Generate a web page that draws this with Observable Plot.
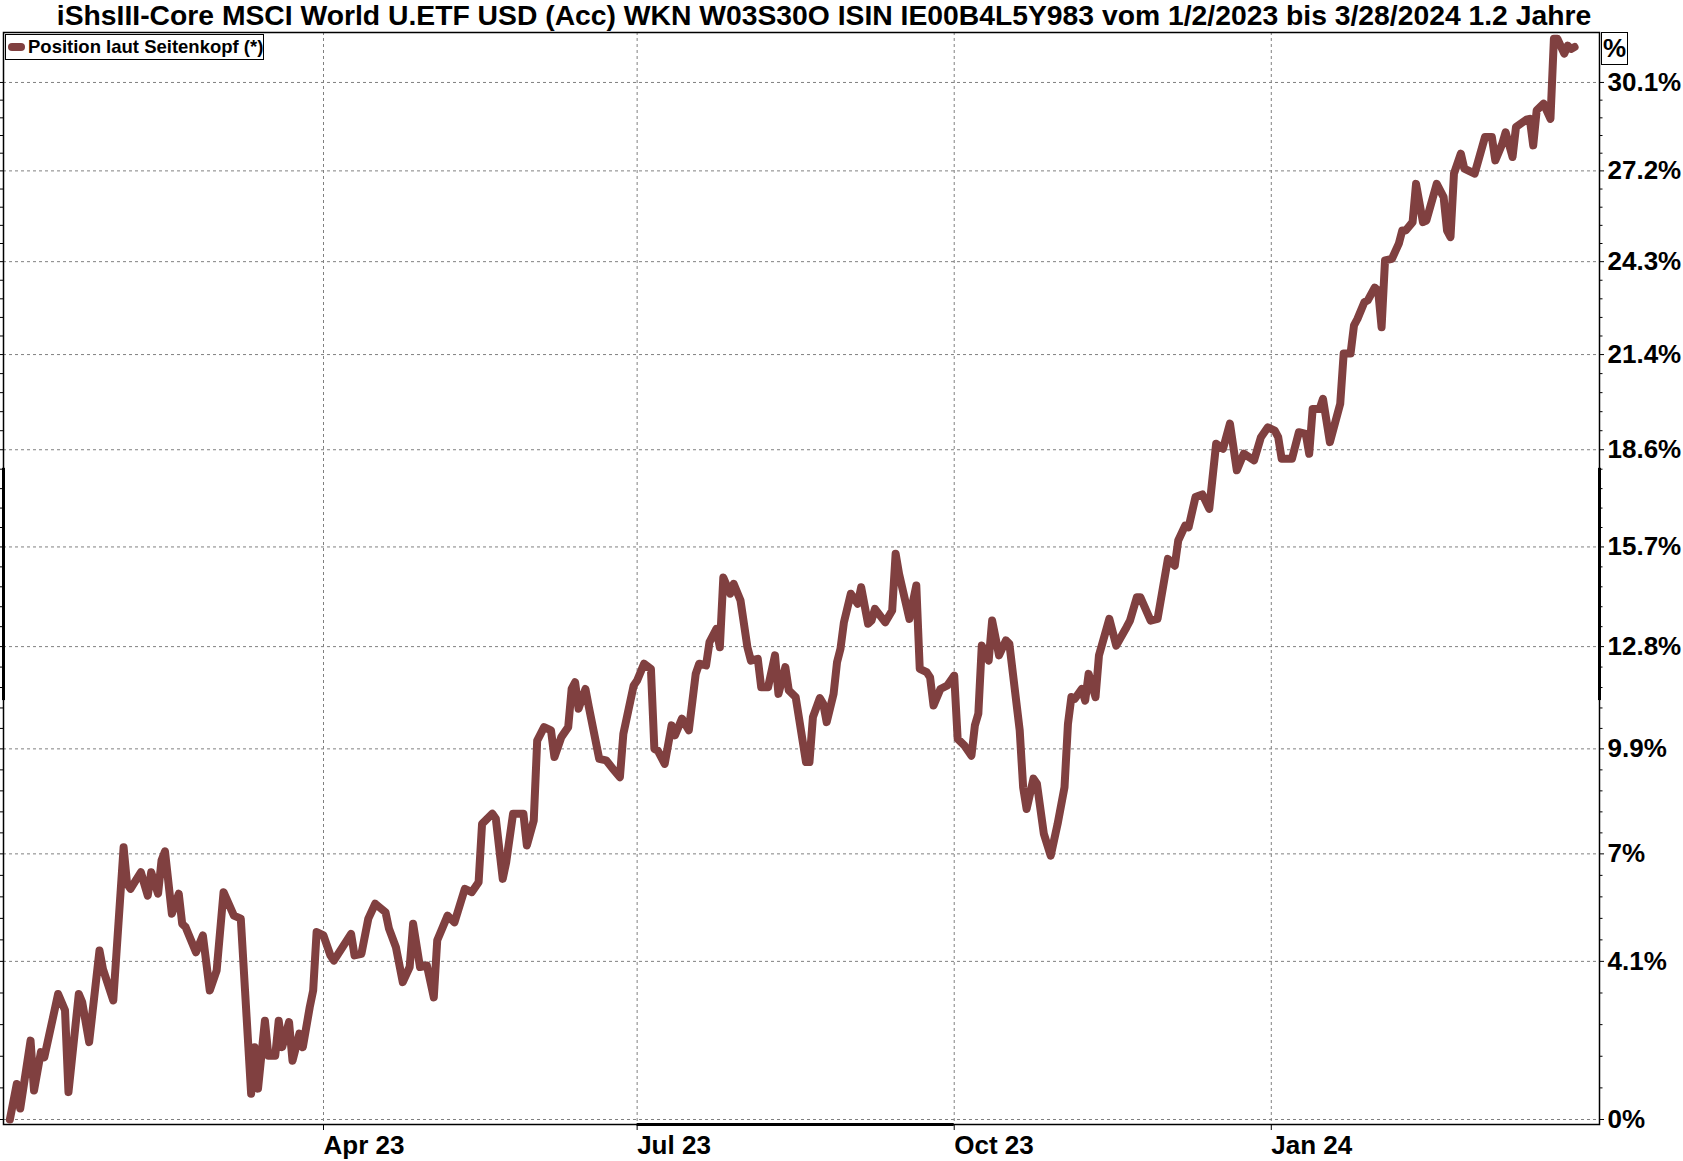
<!DOCTYPE html>
<html>
<head>
<meta charset="utf-8">
<script src="https://cdn.jsdelivr.net/npm/d3@7"></script>
<script src="https://cdn.jsdelivr.net/npm/@observablehq/plot@0.6"></script>
<style>
  body { margin: 0; background: #fff; }
  #wrap { position: relative; width: 1683px; height: 1161px; overflow: hidden; background: #fff;
          font-family: "Liberation Sans", Arial, sans-serif; color: #000; }
  #title { position: absolute; left: 0; top: 0; width: 1648px; height: 32px; line-height: 30px;
           text-align: center; font-weight: bold; font-size: 28.3px; white-space: nowrap; }
  #chart { position: absolute; left: 0; top: 32px; }
  #legend { position: absolute; left: 5px; top: 34px; width: 257px; height: 24px; border: 1px solid #000;
            background: #fff; }
  #legend .sw { position: absolute; left: 2px; top: 8px; width: 17px; height: 8px; border-radius: 4px; }
  #legend .lt { position: absolute; left: 22px; top: 0; line-height: 24px; font-weight: bold; font-size: 18.5px; white-space: nowrap; }
  #unit { position: absolute; left: 1601px; top: 32px; width: 25px; height: 31px; border: 1px solid #000;
          text-align: center; line-height: 31px; font-weight: bold; font-size: 26px; background: #fff; }
</style>
</head>
<body>
<div id="wrap">
  <div id="title"></div>
  <div id="chart"></div>
  <div id="legend"><span class="sw"></span><span class="lt"></span></div>
  <div id="unit">%</div>
</div>
<script>
const titleText = "iShsIII-Core MSCI World U.ETF USD (Acc) WKN W03S30O ISIN IE00B4L5Y983 vom 1/2/2023 bis 3/28/2024 1.2 Jahre";
const seriesName = "Position laut Seitenkopf (*)";
const seriesColor = "#804040";
const unitLabel = "%";

const dates = [
"2022-12-31","2023-01-02","2023-01-03","2023-01-06","2023-01-07","2023-01-09","2023-01-10","2023-01-14","2023-01-16","2023-01-17",
"2023-01-20","2023-01-21","2023-01-23","2023-01-26","2023-01-27","2023-01-30","2023-02-02","2023-02-03","2023-02-04","2023-02-07",
"2023-02-09","2023-02-10","2023-02-12","2023-02-13","2023-02-14","2023-02-16","2023-02-18","2023-02-19","2023-02-20","2023-02-23",
"2023-02-25","2023-02-27","2023-03-01","2023-03-03","2023-03-06","2023-03-08","2023-03-11","2023-03-12","2023-03-13","2023-03-15",
"2023-03-16","2023-03-18","2023-03-19","2023-03-20","2023-03-22","2023-03-23","2023-03-25","2023-03-26","2023-03-28","2023-03-29",
"2023-03-30","2023-04-01","2023-04-03","2023-04-04","2023-04-09","2023-04-10","2023-04-12","2023-04-14","2023-04-16","2023-04-19",
"2023-04-20","2023-04-22","2023-04-24","2023-04-26","2023-04-27","2023-04-29","2023-05-01","2023-05-03","2023-05-04","2023-05-07",
"2023-05-09","2023-05-12","2023-05-14","2023-05-16","2023-05-17","2023-05-20","2023-05-21","2023-05-23","2023-05-24","2023-05-26",
"2023-05-29","2023-05-30","2023-06-01","2023-06-02","2023-06-04","2023-06-06","2023-06-07","2023-06-09","2023-06-11","2023-06-12",
"2023-06-13","2023-06-14","2023-06-16","2023-06-17","2023-06-20","2023-06-22","2023-06-24","2023-06-26","2023-06-27","2023-06-30",
"2023-07-01","2023-07-03","2023-07-05","2023-07-06","2023-07-07","2023-07-09","2023-07-11","2023-07-12","2023-07-14","2023-07-16",
"2023-07-18","2023-07-19","2023-07-21","2023-07-22","2023-07-24","2023-07-25","2023-07-26","2023-07-28","2023-07-29","2023-07-31",
"2023-08-02","2023-08-03","2023-08-05","2023-08-06","2023-08-08","2023-08-10","2023-08-11","2023-08-13","2023-08-14","2023-08-16",
"2023-08-19","2023-08-20","2023-08-21","2023-08-23","2023-08-24","2023-08-25","2023-08-27","2023-08-28","2023-08-29","2023-08-30",
"2023-09-01","2023-09-03","2023-09-04","2023-09-06","2023-09-07","2023-09-08","2023-09-11","2023-09-13","2023-09-14","2023-09-15",
"2023-09-18","2023-09-20","2023-09-21","2023-09-23","2023-09-24","2023-09-25","2023-09-27","2023-09-29","2023-10-01","2023-10-02",
"2023-10-04","2023-10-06","2023-10-07","2023-10-08","2023-10-09","2023-10-11","2023-10-12","2023-10-14","2023-10-16","2023-10-17",
"2023-10-20","2023-10-21","2023-10-22","2023-10-24","2023-10-25","2023-10-27","2023-10-29","2023-10-31","2023-11-02","2023-11-03",
"2023-11-04","2023-11-05","2023-11-07","2023-11-08","2023-11-09","2023-11-11","2023-11-12","2023-11-15","2023-11-17","2023-11-20",
"2023-11-21","2023-11-23","2023-11-24","2023-11-27","2023-11-29","2023-12-02","2023-12-04","2023-12-05","2023-12-07","2023-12-08",
"2023-12-10","2023-12-12","2023-12-14","2023-12-16","2023-12-18","2023-12-20","2023-12-22","2023-12-24","2023-12-27","2023-12-29",
"2023-12-31","2024-01-02","2024-01-03","2024-01-04","2024-01-07","2024-01-09","2024-01-11","2024-01-12","2024-01-13","2024-01-15",
"2024-01-16","2024-01-18","2024-01-21","2024-01-22","2024-01-24","2024-01-25","2024-01-26","2024-01-28","2024-01-29","2024-01-31",
"2024-02-01","2024-02-02","2024-02-03","2024-02-05","2024-02-07","2024-02-08","2024-02-09","2024-02-11","2024-02-12","2024-02-14",
"2024-02-15","2024-02-18","2024-02-20","2024-02-21","2024-02-22","2024-02-23","2024-02-25","2024-02-26","2024-02-29","2024-03-03",
"2024-03-05","2024-03-06","2024-03-08","2024-03-09","2024-03-11","2024-03-12","2024-03-15","2024-03-16","2024-03-17","2024-03-18",
"2024-03-20","2024-03-22","2024-03-23","2024-03-24","2024-03-26","2024-03-27","2024-03-28","2024-03-29"
];

const values = [
0.00,0.91,0.28,2.03,0.74,1.73,1.60,3.25,2.82,0.70,
3.25,3.03,1.99,4.40,3.91,3.08,7.18,6.19,6.05,6.50,
5.87,6.50,5.92,6.82,7.07,5.38,5.92,5.11,5.02,4.35,
4.80,3.34,3.87,5.96,5.33,5.25,0.66,1.86,0.79,2.55,
1.64,1.64,2.55,1.86,2.51,1.51,2.21,1.86,2.90,3.34,
4.89,4.80,4.27,4.13,4.84,4.27,4.31,5.25,5.65,5.42,
4.98,4.49,3.56,3.96,5.11,3.96,4.00,3.16,4.67,5.33,
5.15,6.05,5.96,6.23,7.82,8.10,7.96,6.32,6.77,8.10,
8.10,7.23,7.91,10.13,10.51,10.42,9.67,10.23,10.51,11.59,
11.78,11.03,11.59,11.07,9.62,9.58,9.34,9.11,10.32,11.69,
11.83,12.31,12.16,9.90,9.85,9.48,10.56,10.28,10.75,10.42,
12.02,12.31,12.26,12.93,13.31,12.78,14.80,14.33,14.62,14.13,
12.78,12.40,12.45,11.64,11.64,12.55,11.45,12.21,11.55,11.36,
9.53,9.53,10.79,11.33,11.17,10.65,11.45,12.35,12.74,13.50,
14.33,14.04,14.52,13.46,13.55,13.89,13.50,13.84,15.50,14.91,
13.60,14.57,12.16,12.07,11.92,11.12,11.59,11.69,11.97,10.18,
9.99,9.71,10.56,10.89,12.83,12.40,13.55,12.55,12.98,12.88,
10.42,8.83,8.23,9.07,8.93,7.55,6.95,7.82,8.83,10.60,
11.36,11.31,11.59,11.26,12.02,11.36,12.55,13.60,12.83,13.36,
13.55,14.23,14.23,13.55,13.60,15.35,15.15,15.89,16.33,16.28,
17.18,17.26,16.83,18.78,18.63,19.39,17.98,18.48,18.28,18.98,
19.28,19.18,18.98,18.33,18.33,19.13,19.08,18.48,19.84,19.84,
20.15,18.83,20.00,21.54,21.54,22.42,22.62,23.14,23.20,23.60,
23.51,22.36,24.46,24.51,24.99,25.41,25.41,25.68,26.91,25.68,
25.73,26.91,26.48,25.41,25.20,27.24,27.89,27.40,27.24,28.43,
28.43,27.67,28.21,28.59,27.78,28.76,29.00,29.03,28.16,29.31,
29.53,29.03,31.69,31.69,31.19,31.46,31.35,31.41
];

// y axis: tick positions (percent) and their printed labels
const yTickValues = [0, 4.11, 7.0, 9.9, 12.8, 15.7, 18.6, 21.51, 24.42, 27.33, 30.23];
const yTickLabels = ["0%", "4.1%", "7%", "9.9%", "12.8%", "15.7%", "18.6%", "21.4%", "24.3%", "27.2%", "30.1%"];

// x axis: quarter ticks and labels
const xTickDates = ["2023-04-01", "2023-07-01", "2023-10-01", "2024-01-01"];
const xTickLabels = ["Apr 23", "Jul 23", "Oct 23", "Jan 24"];

// ---------- build ----------
document.getElementById("title").textContent = titleText;
document.querySelector("#legend .lt").textContent = seriesName;
document.querySelector("#legend .sw").style.background = seriesColor;
document.getElementById("unit").textContent = unitLabel;

const data = dates.map((d, i) => ({date: new Date(d), value: values[i]}));
const g = v => 1 + v / 100;                    // growth factor, plotted on a log scale
const yTicks = yTickValues.map(g);
const yMinor = [];
for (let i = 0; i < yTicks.length - 1; i++) {
  const a = yTicks[i], b = yTicks[i + 1];
  for (let k = 1; k < 5; k++) yMinor.push(a * Math.pow(b / a, k / 5));
}
const xTicks = xTickDates.map(d => new Date(d));
const day = 864e5, t0 = Date.UTC(2023, 0, 1);
const xDomain = [new Date(t0 - 2.85 * day), new Date(t0 + 460.23 * day)];
const yDomain = [0.99873, 1.31898];

const font = "'Liberation Sans', Arial, sans-serif";
const chart = Plot.plot({
  width: 1683,
  height: 1129,
  marginTop: 0,
  marginBottom: 37,
  marginLeft: 3,
  marginRight: 84,
  style: {fontFamily: font, fontSize: "26px", fontWeight: "bold", background: "white", color: "black", overflow: "visible"},
  x: {type: "utc", domain: xDomain},
  y: {type: "log", domain: yDomain},
  marks: [
    Plot.gridY(yTicks, {stroke: "#808080", strokeOpacity: 1, strokeDasharray: "3,3", strokeWidth: 1}),
    Plot.gridX(xTicks, {stroke: "#808080", strokeOpacity: 1, strokeDasharray: "3,3", strokeWidth: 1}),
    Plot.frame({stroke: "black", strokeWidth: 1.5}),
    Plot.axisY(yMinor, {anchor: "right", tickSize: 2.5, tickFormat: () => "", stroke: "black"}),
    Plot.axisY(yMinor.concat(yTicks), {anchor: "left", tickSize: 3, tickFormat: () => "", stroke: "black"}),
    Plot.axisY(yTicks, {anchor: "right", tickSize: 4, tickPadding: 4, stroke: "black",
      tickFormat: d => yTickLabels[yTicks.indexOf(d)], fontSize: 26, fontWeight: "bold", fontFamily: font}),
    Plot.axisX(xTicks, {anchor: "bottom", tickSize: 6, tickPadding: 5, stroke: "black", textAnchor: "start",
      tickFormat: d => xTickLabels[xTicks.findIndex(t => +t === +d)], fontSize: 26, fontWeight: "bold", fontFamily: font}),
    // thick highlight segments on the frame
    Plot.ruleX([xDomain[0], xDomain[1]], {y1: g(11.26), y2: g(18.04), stroke: "black", strokeWidth: 3}),
    Plot.ruleY([yDomain[0]], {x1: xTicks[1], x2: xTicks[2], stroke: "black", strokeWidth: 3}),
    Plot.line(data, {x: "date", y: d => g(d.value), stroke: seriesColor, strokeWidth: 8,
      strokeLinejoin: "round", strokeLinecap: "round"})
  ]
});
document.getElementById("chart").appendChild(chart);
</script>
</body>
</html>
